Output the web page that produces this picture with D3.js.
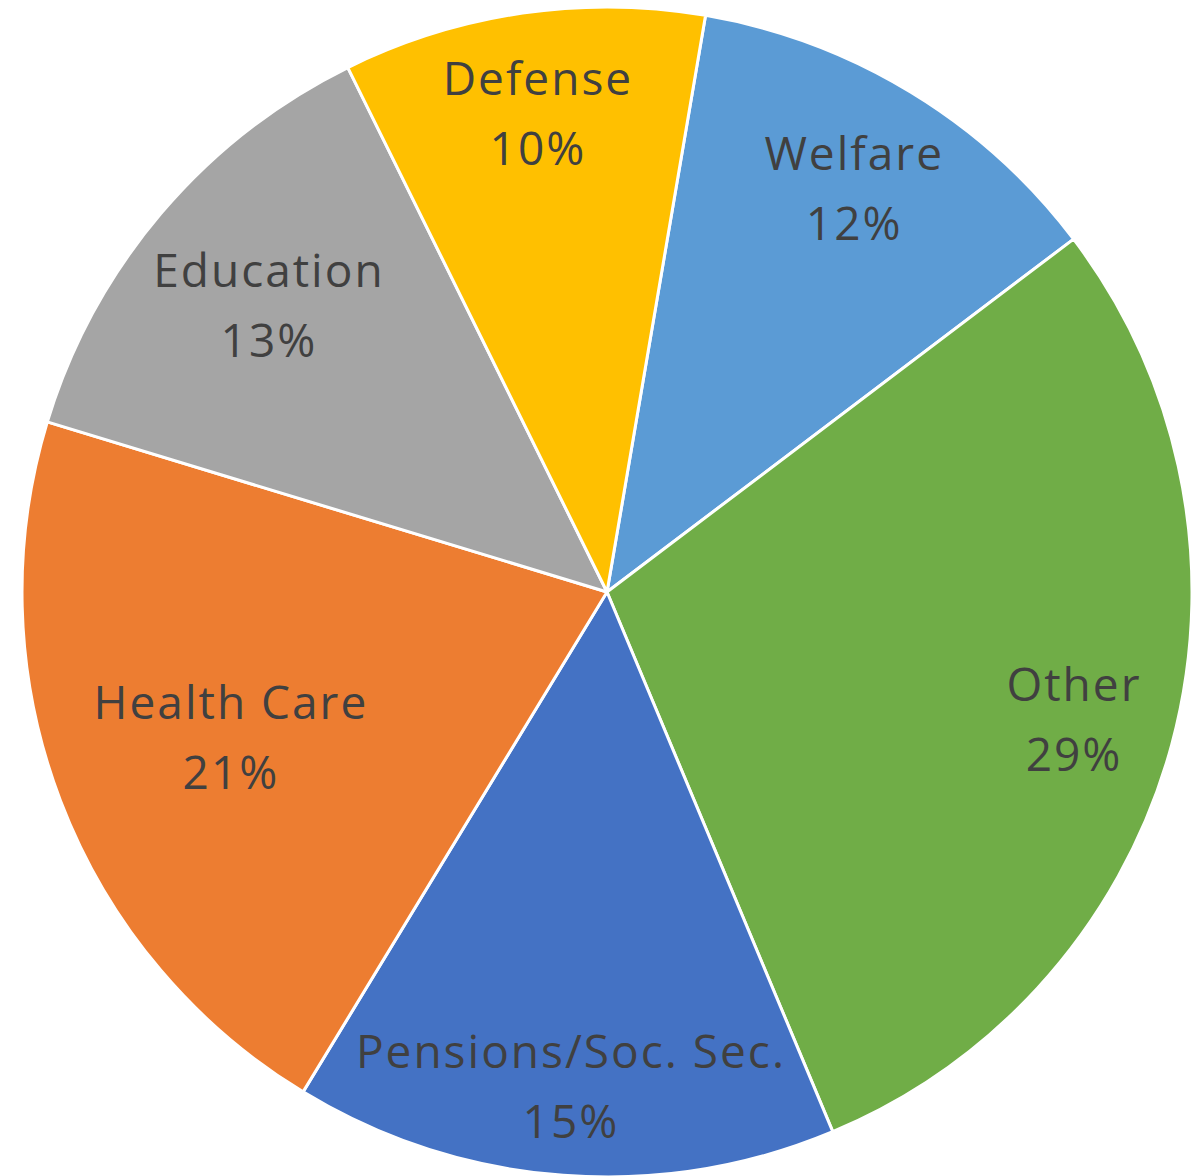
<!DOCTYPE html>
<html>
<head>
<meta charset="utf-8">
<script src="https://cdn.jsdelivr.net/npm/d3@7"></script>
<style>
  html, body { margin: 0; padding: 0; background: #ffffff; }
  svg { display: block; }
  text { font-family: "Open Sans", Lato, sans-serif; fill: #404040; letter-spacing: 2px; }
</style>
</head>
<body>
<svg id="chart" width="1199" height="1176"></svg>
<script>
// Spending shares, in clockwise order from the top
const categories = ["Welfare", "Other", "Pensions/Soc. Sec.", "Health Care", "Education", "Defense"];
const shares = [12, 29, 15, 21, 13, 10];
const sliceColors = ["#5B9BD5", "#70AD47", "#4472C4", "#ED7D31", "#A5A5A5", "#FFC000"];
// How far out along each slice's middle its label sits (fraction of radius)
const labelReach = [0.81, 0.825, 0.845, 0.69, 0.76, 0.83];

const width = 1199, height = 1176;
const cx = 607, cy = 592, radius = 585;
const rotation = 9.7 * Math.PI / 180;

const svg = d3.select("#chart");
const g = svg.append("g").attr("transform", `translate(${cx},${cy})`);

const data = categories.map((name, i) => ({ name, value: shares[i], i }));

const pie = d3.pie()
  .value(d => d.value)
  .sort(null)
  .startAngle(rotation)
  .endAngle(rotation + 2 * Math.PI);

const arcs = pie(data);

const color = d3.scaleOrdinal().domain(categories).range(sliceColors);

const arc = d3.arc().innerRadius(0).outerRadius(radius);

g.selectAll("path.slice")
  .data(arcs)
  .join("path")
  .attr("class", "slice")
  .attr("d", arc)
  .attr("fill", d => color(d.data.name))
  .attr("stroke", "#ffffff")
  .attr("stroke-width", 3)
  .attr("stroke-linejoin", "round");

const fmt = d3.format(".0%");

const labels = g.selectAll("text.label")
  .data(arcs)
  .join("text")
  .attr("class", "label")
  .attr("text-anchor", "middle")
  .attr("font-size", 46)
  .attr("transform", d => {
    const k = labelReach[d.data.i] * radius;
    const [x, y] = d3.arc().innerRadius(k).outerRadius(k).centroid(d);
    return `translate(${x + 1},${y})`;
  });

labels.append("tspan")
  .attr("x", 0)
  .attr("y", -17)
  .text(d => d.data.name);

labels.append("tspan")
  .attr("x", 0)
  .attr("y", 53)
  .text(d => fmt(d.data.value / 100));
</script>
</body>
</html>
